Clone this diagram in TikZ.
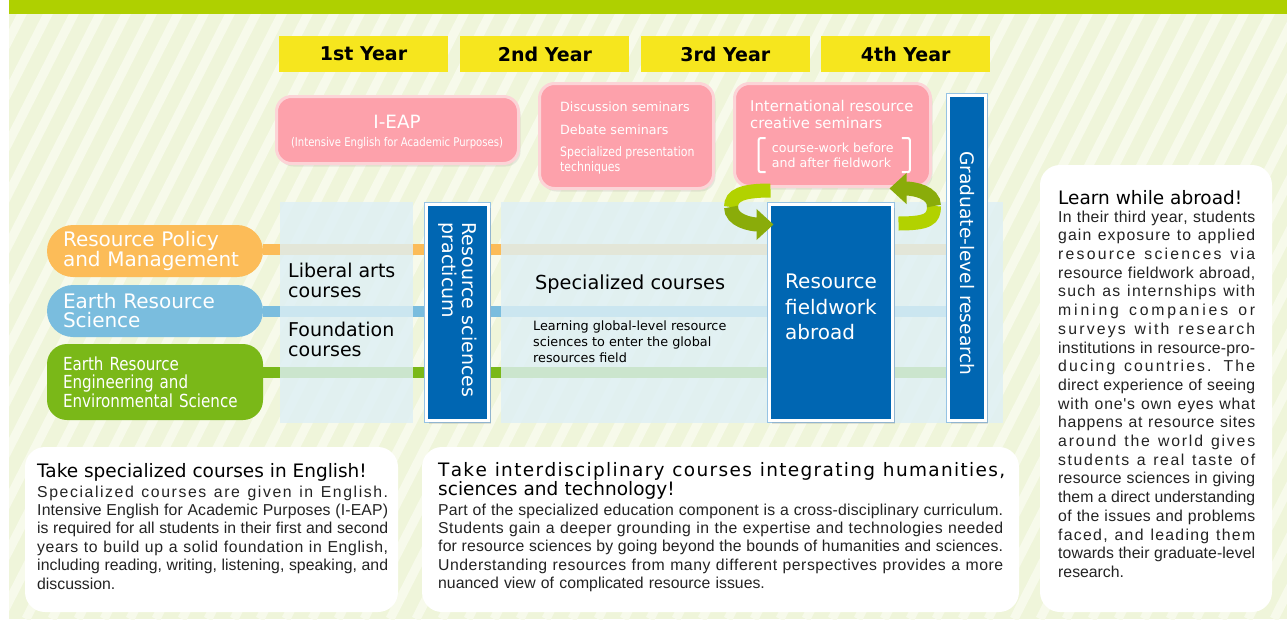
\documentclass[tikz,border=0pt]{standalone}
\usepackage{fontspec}
\setmainfont{DejaVu Sans}
\newfontfamily\bodyfont{Liberation Sans}
\newfontfamily\narrowfont[FakeStretch=0.84]{DejaVu Sans}
\usetikzlibrary{positioning, arrows.meta, calc, shadows}
\setlength{\parindent}{0pt}

\definecolor{bggreen}{RGB}{239,245,218}
\definecolor{bgstripe}{RGB}{247,250,235}
\definecolor{topbar}{RGB}{175,208,0}
\definecolor{yearyellow}{RGB}{246,230,30}
\definecolor{pinkfill}{RGB}{253,161,171}
\definecolor{pinkedge}{RGB}{252,212,215}
\definecolor{deepblue}{RGB}{0,102,178}
\definecolor{edgeblue}{RGB}{150,195,228}
\definecolor{panelblue}{RGB}{222,240,245}
\definecolor{policyorange}{RGB}{252,188,88}
\definecolor{scienceblue}{RGB}{122,189,222}
\definecolor{enggreen}{RGB}{122,184,24}
\definecolor{arrowlight}{RGB}{178,210,0}
\definecolor{arrowdark}{RGB}{138,172,10}
\definecolor{bodygray}{RGB}{35,35,35}

% letter-spaced, justified lines of the notes
\ExplSyntaxOn
\skip_new:N \l__spread_fill_skip
\skip_set:Nn \l__spread_fill_skip { 0pt ~ plus ~ 1fil }
\cs_new_protected:Npn \spreadtext #1
  { \str_map_inline:nn {#1} { ##1 \skip_horizontal:N \l__spread_fill_skip } \unskip }
\ExplSyntaxOff
\newlength{\jw}
\newcommand{\jl}[1]{\hbox to\jw{\spaceskip=0.28em\relax\spreadtext{#1}}} % one justified line

\tikzset{
	yearbox/.style={fill=yearyellow, minimum width=169pt, minimum height=36pt, inner sep=0pt,
		font=\fontsize{19}{22}\selectfont\bfseries}, % yellow year headers
	pinkbox/.style={fill=pinkfill, draw=pinkedge, line width=3pt, rounded corners=15pt,
		drop shadow={opacity=0.15, shadow xshift=2pt, shadow yshift=-3pt}}, % seminar boxes
	pinktext/.style={text=white, inner sep=0pt, align=left},
	bluebox/.style={fill=deepblue, draw=white, line width=3pt, preaction={draw=edgeblue, line width=5pt},
		drop shadow={opacity=0.2, shadow xshift=2pt, shadow yshift=-3pt}}, % dark blue blocks
	bluetext/.style={text=white, inner sep=0pt, align=left},
	panel/.style={fill=panelblue, fill opacity=0.82, minimum height=221pt, inner sep=0pt}, % course columns
	pill/.style={text=white, minimum width=216pt, text width=184pt, inner xsep=16pt, inner ysep=0pt,
		align=left}, % department labels
	track/.style={line width=11pt}, % coloured lines behind the columns
	notebox/.style={fill=white, rounded corners=20pt},
	notetitle/.style={inner sep=0pt, font=\fontsize{18.5}{17}\selectfont},
	notebody/.style={inner sep=0pt, text=bodygray, font=\bodyfont\fontsize{15.8}{18.4}\selectfont},
	coursetext/.style={inner sep=0pt, align=left, text=black},
	bracket/.style={draw=white, line width=2pt, rounded corners=2pt},
	swirl/.style={line width=14pt, -{Triangle[length=17pt, width=30pt]}}, % green turn arrows
}

\begin{document}
\begin{tikzpicture}[x=1pt, y=-1pt]
	\useasboundingbox (0,0) rectangle (1287,619);
	% Background with diagonal stripes
	\fill[bggreen] (9,0) rectangle (1287,619);
	\begin{scope}
		\clip (9,0) rectangle (1287,619);
		\foreach \i in {-13,...,50}
			\draw[bgstripe, line width=9pt] (\i*26,619) -- ++(315,-619);
	\end{scope}
	\fill[topbar] (9,0) rectangle (1287,14);

	% Year headers
	\node[yearbox] (y1) at (363.5,54) {1st Year};
	\node[yearbox, right=12pt of y1] (y2) {2nd Year};
	\node[yearbox, right=11pt of y2] (y3) {3rd Year};
	\node[yearbox, right=11pt of y3] (y4) {4th Year};

	% Departments
	\node[pill, fill=policyorange, minimum height=52pt, rounded corners=26pt,
		font=\fontsize{20}{19}\selectfont] (policy) at (155,251) {Resource Policy\\and Management};
	\node[pill, fill=scienceblue, minimum height=52pt, rounded corners=26pt,
		font=\fontsize{20}{19}\selectfont] (science) at (155,311) {Earth Resource\\Science};
	\node[pill, fill=enggreen, minimum height=76pt, rounded corners=20pt,
		font=\narrowfont\fontsize{18}{18.5}\selectfont] (eng) at (155,382)
		{Earth Resource\\Engineering and\\Environmental Science};

	% Tracks running to the graduate block
	\coordinate (gradedge) at (946,258);
	\coordinate (policytrack) at ([yshift=1.5pt]policy.east);
	\coordinate (engtrack) at ([yshift=9.5pt]eng.east);
	\draw[track, policyorange] (policytrack) -- (policytrack -| gradedge);
	\draw[track, scienceblue] (science.east) -- (science.east -| gradedge);
	\draw[track, enggreen] (engtrack) -- (engtrack -| gradedge);

	% Course columns
	\node[panel, minimum width=133pt] (liberal) at (346.5,312.5) {};
	\node[panel, minimum width=502pt] (special) at (752,312.5) {};

	% Blue blocks
	\node[bluebox, minimum width=62pt, minimum height=216pt] (practicum) at (457.5,312.5) {};
	\node[bluebox, minimum width=123pt, minimum height=216pt] (field) at (831,312.5) {};
	\node[bluebox, minimum width=37pt, minimum height=325pt] (grad) at (967,258) {};
	\node[bluetext, rotate=-90, text width=180pt, font=\fontsize{19}{20}\selectfont] (practicumT)
		at (practicum.center) {Resource sciences\\practicum};
	\node[bluetext, rotate=-90, font=\fontsize{18.6}{20}\selectfont] (gradT)
		at ([yshift=-5.5pt]grad.center) {Graduate-level research};
	\node[bluetext, anchor=north west, font=\fontsize{20}{25.5}\selectfont] (fieldT)
		at (785,274) {Resource\\fieldwork\\abroad};

	% Course labels
	\node[coursetext, anchor=north west, font=\fontsize{19}{20}\selectfont] (liberalT)
		at (288,262.5) {Liberal arts\\courses};
	\node[coursetext, anchor=north west, font=\fontsize{19}{20}\selectfont] (foundT)
		at (288,322) {Foundation\\courses};
	\node[coursetext, anchor=base west, font=\fontsize{19.3}{20}\selectfont] (specialT)
		at (535,289) {Specialized courses};
	\node[coursetext, anchor=north west, font=\fontsize{12.8}{16.3}\selectfont] (globalT)
		at (533,320.3) {Learning global-level resource\\sciences to enter the global\\resources field};

	% Seminar boxes
	\node[pinkbox, minimum width=242pt, minimum height=67pt] (ieap) at (397.5,130) {};
	\node[pinktext, font=\fontsize{18.3}{20}\selectfont] (ieapT) at (397,121.5) {I-EAP};
	\node[pinktext, font=\narrowfont\fontsize{12}{14}\selectfont] (ieapS) at (397,143.5)
		{(Intensive English for Academic Purposes)};
	\node[pinkbox, minimum width=174pt, minimum height=105pt] (sem) at (626.5,136) {};
	\node[pinktext, anchor=north west, font=\fontsize{12.7}{15}\selectfont] (semT) at (560,101.2)
		{Discussion seminars\\[8pt]Debate seminars};
	\node[pinktext, anchor=north west, font=\narrowfont\fontsize{13}{15}\selectfont] (semT2) at (560,146)
		{Specialized presentation\\techniques};
	\node[pinkbox, minimum width=196pt, minimum height=103pt] (intl) at (832.5,135) {};
	\node[pinktext, anchor=north west, font=\fontsize{14.8}{17}\selectfont] (intlT) at (750,100)
		{International resource\\creative seminars};
	\node[pinktext, anchor=north west, font=\fontsize{12.6}{15}\selectfont] (bkt) at (771.7,143)
		{course-work before\\and after fieldwork};
	\draw[bracket] ([shift={(-6,-5)}]bkt.north west) -- ([shift={(-13,-5)}]bkt.north west)
		-- ([shift={(-13,4)}]bkt.south west) -- ([shift={(-6,4)}]bkt.south west);
	\draw[bracket] ([shift={(8,-5)}]bkt.north east) -- ([shift={(16,-5)}]bkt.north east)
		-- ([shift={(16,4)}]bkt.south east) -- ([shift={(8,4)}]bkt.south east);

	% Notes
	\node[notebox, minimum width=373pt, minimum height=165pt] (engNote) at (211.5,529.5) {};
	\node[notetitle, anchor=base west] (engTitle) at (37,477) {Take specialized courses in English!};
	\node[notebody, text width=351pt, anchor=north west] (engBody) at (37,485.5)
		{\jw=351pt\relax
		\jl{Specialized courses are given in English.}
		\jl{Intensive English for Academic Purposes (I-EAP)}
		\jl{is required for all students in their first and second}
		\jl{years to build up a solid foundation in English,}
		\jl{including reading, writing, listening, speaking, and}
		discussion.};
	\node[notebox, minimum width=597pt, minimum height=165pt] (mixNote) at (720.5,529.5) {};
	\node[notetitle, text width=567pt, anchor=north west] (mixTitle) at (438,462)
		{\jw=567pt\relax\jl{Take interdisciplinary courses integrating humanities,}
		sciences and technology!};
	\node[notebody, text width=565pt, anchor=north west] (mixBody) at (438,503.5)
		{\jw=565pt\relax
		\jl{Part of the specialized education component is a cross-disciplinary curriculum.}
		\jl{Students gain a deeper grounding in the expertise and technologies needed}
		\jl{for resource sciences by going beyond the bounds of humanities and sciences.}
		\jl{Understanding resources from many different perspectives provides a more}
		nuanced view of complicated resource issues.};
	\node[notebox, minimum width=232pt, minimum height=447pt] (abroadNote) at (1156,388.5) {};
	\node[notetitle, anchor=base west] (abroadTitle) at (1058,204) {Learn while abroad!};
	\node[notebody, text width=197pt, anchor=north west, font=\bodyfont\fontsize{15.8}{18.7}\selectfont]
		(abroadBody) at (1058,210.5)
		{\jw=197pt\relax
		\jl{In their third year, students}
		\jl{gain exposure to applied}
		\jl{resource sciences via}
		\jl{resource fieldwork abroad,}
		\jl{such as internships with}
		\jl{mining companies or}
		\jl{surveys with research}
		\jl{institutions in resource-pro-}
		\jl{ducing countries. The}
		\jl{direct experience of seeing}
		\jl{with one's own eyes what}
		\jl{happens at resource sites}
		\jl{around the world gives}
		\jl{students a real taste of}
		\jl{resource sciences in giving}
		\jl{them a direct understanding}
		\jl{of the issues and problems}
		\jl{faced, and leading them}
		\jl{towards their graduate-level}
		research.};

	% Turn arrows between the seminars and the fieldwork
	\coordinate (loopL) at (731,207);
	\coordinate (loopR) at (934,206);
	\draw[swirl, arrowlight, -] ([shift={(37.5,2.5)}]intl.south west) .. controls +(-28,0) and +(0,-12) .. (loopL);
	\draw[swirl, arrowdark] (loopL) .. controls +(0,14) and +(-22,0) .. ([shift={(5.5,21.5)}]field.north west);
	\draw[swirl, arrowlight, -] ([shift={(4.5,20.5)}]field.north east) .. controls +(30,0) and +(0,13) .. (loopR);
	\draw[swirl, arrowdark] (loopR) .. controls +(0,-14) and +(24,0) .. ([shift={(-42.5,0.5)}]intl.south east);
\end{tikzpicture}
\end{document}
